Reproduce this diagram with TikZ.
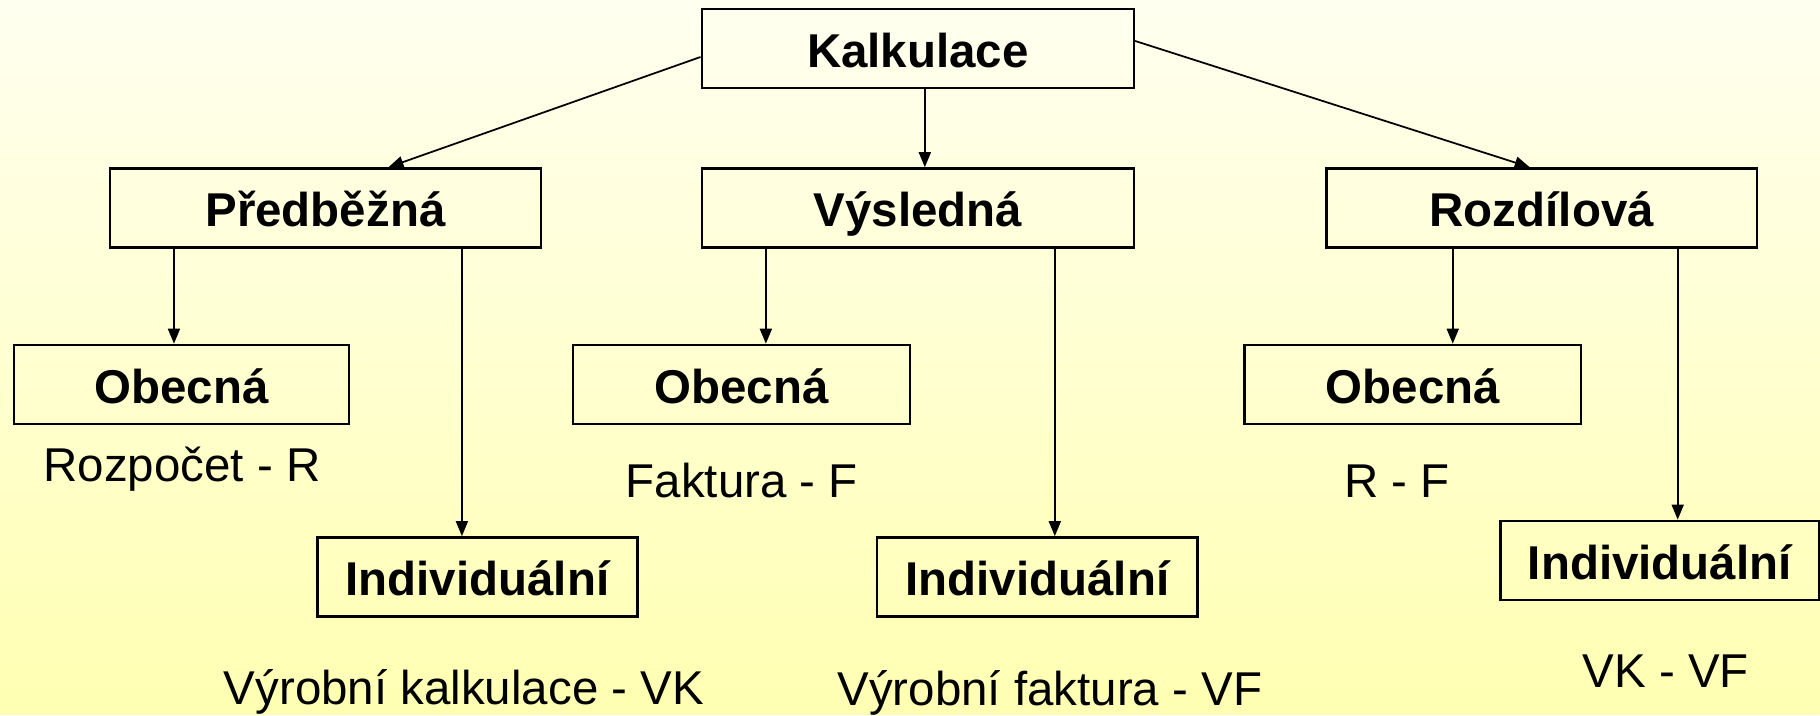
\documentclass[tikz,border=0pt]{standalone}
\usepackage{fontspec}
\setmainfont{Liberation Sans}
\usetikzlibrary{arrows.meta}
\definecolor{bgtop}{RGB}{255,255,240}
\definecolor{bgbottom}{RGB}{255,255,178}
\tikzset{
        basenode/.style={align=center,inner sep=0pt,font=\fontsize{13.5}{16}\selectfont},
        % Framed boxes with bold titles
        node_box/.style={basenode, rectangle, draw=black, line width=0.7pt, minimum height=0.79cm,
                text height=0.38cm, text depth=0cm, font=\fontsize{13.5}{16}\selectfont\bfseries},
        % Plain labels below the boxes
        node_label/.style={basenode, anchor=base},
        % Arrows between boxes
        edge_arrow/.style={-{Triangle[length=0.15cm,width=0.12cm]}, line width=0.5pt}
}
\begin{document}
\begin{tikzpicture}[x=0.01cm, y=-0.01cm]
            \shade[top color=bgtop, bottom color=bgbottom] (0,0) rectangle (1820,715);
            % top level
            \node[node_box, minimum width=4.32cm] (kalk) at (918,48.5) {Kalkulace};
            % second level
            \node[node_box, minimum width=4.31cm] (pred) at (325.5,208) {Předběžná};
            \node[node_box, minimum width=4.32cm] (vysl) at (918,208) {Výsledná};
            \node[node_box, minimum width=4.30cm] (rozd) at (1542,208) {Rozdílová};
            % third level
            \node[node_box, minimum width=3.35cm] (obec1) at (181.5,384.5) {Obecná};
            \node[node_box, minimum width=3.37cm] (obec2) at (741.5,384.5) {Obecná};
            \node[node_box, minimum width=3.36cm] (obec3) at (1413,384.5) {Obecná};
            \node[node_box, minimum width=3.20cm] (ind1) at (477.5,577) {Individuální};
            \node[node_box, minimum width=3.20cm] (ind2) at (1037.5,577) {Individuální};
            \node[node_box, minimum width=3.18cm] (ind3) at (1660,560.5) {Individuální};
            % labels
            \node[node_label] (rozp) at (182,482) {Rozpočet - R};
            \node[node_label] (fakt) at (742,498) {Faktura - F};
            \node[node_label] (rf) at (1397.5,498) {R - F};
            \node[node_label] (vk) at (464,705) {Výrobní kalkulace - VK};
            \node[node_label] (vf) at (1050,706) {Výrobní faktura - VF};
            \node[node_label] (vkvf) at (1666,688) {VK - VF};
            % arrows
            \draw[edge_arrow] ([yshift=-0.085cm]kalk.west) -- ([xshift=0.63cm]pred.north);
            \draw[edge_arrow] (kalk.south -| 925,0) -- (vysl.north -| 925,0);
            \draw[edge_arrow] ([yshift=0.075cm]kalk.east) -- ([xshift=-0.12cm]rozd.north);
            \draw[edge_arrow] (pred.south -| 174,0) -- (obec1.north -| 174,0);
            \draw[edge_arrow] (pred.south -| 462,0) -- (ind1.north -| 462,0);
            \draw[edge_arrow] (vysl.south -| 766,0) -- (obec2.north -| 766,0);
            \draw[edge_arrow] (vysl.south -| 1055,0) -- (ind2.north -| 1055,0);
            \draw[edge_arrow] (rozd.south -| 1453,0) -- (obec3.north -| 1453,0);
            \draw[edge_arrow] (rozd.south -| 1678,0) -- (ind3.north -| 1678,0);
\end{tikzpicture}
\end{document}
